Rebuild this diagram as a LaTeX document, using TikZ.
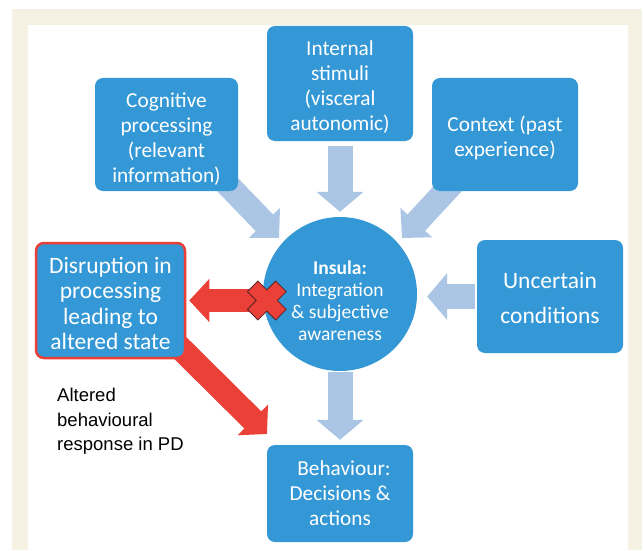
\documentclass[tikz,border=0pt]{standalone}
\usepackage{fontspec}
\setmainfont{Carlito}
\newfontfamily\arialfont{Liberation Sans}
\usetikzlibrary{arrows.meta}
\definecolor{beige}{RGB}{245,242,228}
\definecolor{boxblue}{RGB}{52,152,214}
\definecolor{arrblue}{RGB}{170,198,228}
\definecolor{redarr}{RGB}{234,64,56}
\definecolor{xedge}{RGB}{90,35,35}
\begin{document}
\begin{tikzpicture}[x=1pt,y=1pt,
  bbox/.style={rounded corners=8pt, fill=boxblue, inner sep=0pt},
  btext/.style={text=white, align=center, inner sep=0pt, font=\fontsize{21.3}{25}\selectfont},
  bluearrow/.style={draw=arrblue, line width=25pt, -{Triangle[length=20pt,width=46pt]}},
  bluediag/.style={draw=arrblue, line width=24pt, -{Triangle[length=21pt,width=42pt]}},
  redarrow/.style={draw=redarr, line width=23pt, -{Triangle[length=20pt,width=42pt]}},
]
\useasboundingbox (0,0) rectangle (644,550);
\fill[beige] (12,0) rectangle (642,541);
\fill[white] (28,0) rectangle (628,525);

% coordinates for diagonal arrows
\coordinate (cogstart) at (226,367);
\coordinate (cogtip) at (279,312);
\coordinate (ctxstart) at (453,367);
\coordinate (ctxtip) at (402,312);
\coordinate (redstart) at (150,232);
\coordinate (redtip) at (267,116);

% diagonal arrows (behind boxes)
\draw[bluediag] (cogstart) -- (cogtip);
\draw[bluediag] (ctxstart) -- (ctxtip);
\draw[redarrow, line width=24pt] (redstart) -- (redtip);

% boxes
\node[bbox, minimum width=146pt, minimum height=115pt] (internal) at (340,466.5) {};
\node[btext] (internaltxt) at ([yshift=-4pt]internal.center)
  {Internal\\stimuli\\(visceral\\autonomic)};
\node[bbox, minimum width=143pt, minimum height=113pt] (cognitive) at (166.5,415.5) {};
\node[btext] (cognitivetxt) at ([yshift=-4.5pt]cognitive.center)
  {Cognitive\\processing\\(relevant\\information)};
\node[bbox, minimum width=146pt, minimum height=113pt] (context) at (505,415.5) {};
\node[btext] (contexttxt) at ([yshift=-3.5pt]context.center)
  {Context (past\\experience)};
\node[bbox, minimum width=146pt, minimum height=113pt] (uncertain) at (550,253.5) {};
\node[btext, font=\fontsize{23.5}{35}\selectfont] (uncertaintxt) at ([yshift=-1.5pt]uncertain.center)
  {Uncertain\\conditions};
\node[bbox, minimum width=149pt, minimum height=115pt, draw=redarr, line width=2.5pt] (disruption) at (110.5,249.5) {};
\node[btext, font=\fontsize{23.5}{25.5}\selectfont] (disruptiontxt) at ([yshift=-3pt]disruption.center)
  {Disruption in\\processing\\leading to\\altered state};
\node[bbox, minimum width=146pt, minimum height=97pt] (behaviour) at (340,56.5) {};
\node[btext] (behaviourtxt) at (behaviour.center)
  {\hspace*{8pt}Behaviour:\\Decisions \&\\actions};

% insula circle
\node[circle, fill=boxblue, minimum size=154pt, inner sep=0pt] (insula) at (340,256) {};
\node[text=white, align=center, inner sep=0pt, font=\fontsize{19.5}{22}\selectfont]
  (insulatxt) at ([yshift=-7pt]insula.center)
  {\textbf{Insula:}\\Integration\\\& subjective\\awareness};

% straight arrows
\draw[bluearrow, shorten <=5pt, shorten >=5pt] (internal.south) -- (insula.north);
\draw[bluearrow, shorten <=1pt, shorten >=5pt] (insula.south) -- (behaviour.north);
\draw[bluearrow, shorten <=2pt, shorten >=10pt] (uncertain.west) -- (uncertain.west -| insula.east);
\draw[redarrow, shorten >=3pt] (disruption.east -| insula.west) ++(4,0) coordinate (xc) -- (disruption.east);

% X mark
\node[inner sep=0pt, minimum size=0pt] (xmark) at (xc) {};
\filldraw[fill=redarr, draw=xedge, line width=0.8pt, rotate around={45:(xmark)}, shift={(xmark)}]
  (-7.5,-20) -- (7.5,-20) -- (7.5,-7.5) -- (20,-7.5) -- (20,7.5) -- (7.5,7.5) -- (7.5,20)
  -- (-7.5,20) -- (-7.5,7.5) -- (-20,7.5) -- (-20,-7.5) -- (-7.5,-7.5) -- cycle;

% label
\node[anchor=north west, align=left, inner sep=0pt, font=\arialfont\fontsize{18.5}{24.5}\selectfont]
  (altered) at (57,162) {Altered\\behavioural\\response in PD};
\end{tikzpicture}
\end{document}
